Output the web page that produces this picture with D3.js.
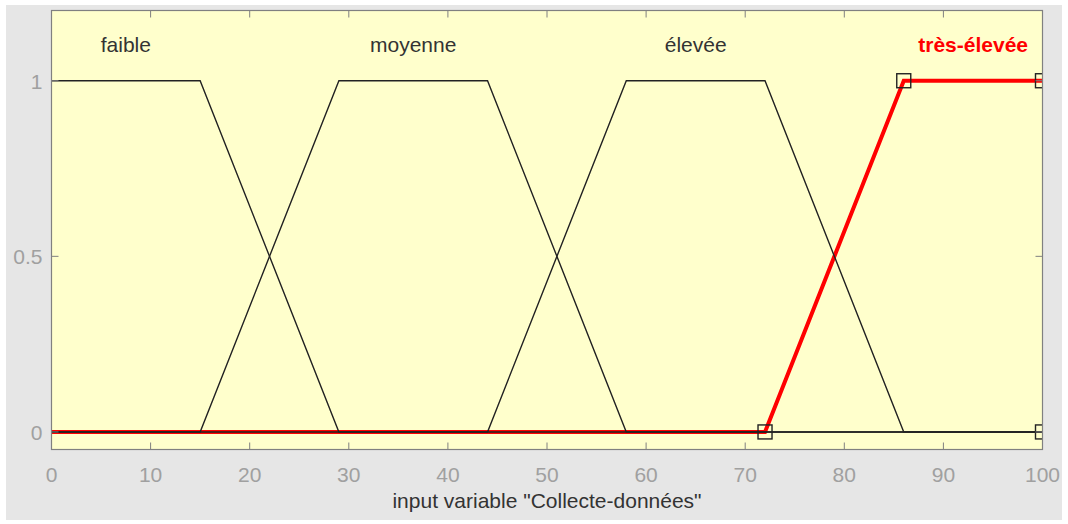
<!DOCTYPE html>
<html><head><meta charset="utf-8">
<script src="https://cdn.jsdelivr.net/npm/d3@7"></script>
<style>body{margin:0;background:#fff;}svg{display:block;font-family:"Liberation Sans",Arial,sans-serif;}</style>
</head><body>
<svg id="c" width="1068" height="524"></svg>
<script>
const mfNames = ["faible", "moyenne", "élevée", "très-élevée"];
const mfParams = [[-14, 0, 15, 29], [15, 29, 44, 58], [44, 58, 72, 86], [72, 86, 100, 114]];
const selected = 3;
const xTicks = [0, 10, 20, 30, 40, 50, 60, 70, 80, 90, 100];
const yTicks = [0, 0.5, 1];
const yTickLabels = ["0", "0.5", "1"];
const xLabel = 'input variable "Collecte-données"';

const svg = d3.select("#c");
svg.append("rect").attr("x", 6).attr("y", 5).attr("width", 1056).attr("height", 515).attr("fill", "#e6e6e6");
const L = 51.5, R = 1042.5, T = 10.5, B = 449.5;
const x = d3.scaleLinear().domain([0, 100]).range([L, R]);
const y = d3.scaleLinear().domain([-0.05, 1.2]).range([B, T]);
svg.append("rect").attr("x", L).attr("y", T).attr("width", R - L).attr("height", B - T).attr("fill", "#ffffcc");

function trap(p, v) {
  if (v <= p[0] || v >= p[3]) return 0;
  if (v >= p[1] && v <= p[2]) return 1;
  if (v < p[1]) return (v - p[0]) / (p[1] - p[0]);
  return (p[3] - v) / (p[3] - p[2]);
}
function pts(p) {
  const xs = [0, ...p.filter(v => v > 0 && v < 100), 100];
  return xs.map(v => [v, trap(p, v)]);
}
const line = d3.line().x(d => x(d[0])).y(d => y(d[1]));
svg.append("clipPath").attr("id", "cl").append("rect").attr("x", L).attr("y", T).attr("width", R - L).attr("height", B - T);
const g = svg.append("g").attr("clip-path", "url(#cl)");
const sp = mfParams[selected];
g.append("path").attr("d", line(pts(sp))).attr("fill", "none").attr("stroke", "#ff0000").attr("stroke-width", 4);
mfParams.forEach((p, i) => {
  if (i === selected) return;
  g.append("path").attr("d", line(pts(p))).attr("fill", "none").attr("stroke", "#222").attr("stroke-width", 1.4);
});
const marks = sp.map(v => [v, trap(sp, v)]).filter(d => d[0] >= 0 && d[0] <= 100);
marks.push([100, 0]);
g.selectAll(".mk").data(marks).enter().append("rect")
  .attr("x", d => x(d[0]) - 7).attr("y", d => y(d[1]) - 7).attr("width", 14).attr("height", 14)
  .attr("fill", "none").attr("stroke", "#222").attr("stroke-width", 1.4);

mfNames.forEach((n, i) => {
  const p = mfParams[i];
  svg.append("text").attr("x", x((Math.max(p[1], 0) + Math.min(p[2], 100)) / 2)).attr("y", 52)
    .attr("text-anchor", "middle").attr("font-size", 21)
    .attr("fill", i === selected ? "#ff0000" : "#333").attr("font-weight", i === selected ? "bold" : "normal").text(n);
});

const ax = svg.append("g");
ax.append("rect").attr("x", L).attr("y", T).attr("width", R - L).attr("height", B - T).attr("fill", "none").attr("stroke", "#808080").attr("stroke-width", 1.2);
xTicks.forEach(t => {
  ax.append("line").attr("x1", x(t)).attr("x2", x(t)).attr("y1", B).attr("y2", B - 7).attr("stroke", "#808080");
  ax.append("line").attr("x1", x(t)).attr("x2", x(t)).attr("y1", T).attr("y2", T + 7).attr("stroke", "#808080");
  ax.append("text").attr("x", x(t)).attr("y", 482).attr("text-anchor", "middle").attr("font-size", 21).attr("fill", "#a0a0a0").text(t);
});
yTicks.forEach((t, i) => {
  ax.append("line").attr("x1", L).attr("x2", L + 7).attr("y1", y(t)).attr("y2", y(t)).attr("stroke", "#808080");
  ax.append("line").attr("x1", R).attr("x2", R - 7).attr("y1", y(t)).attr("y2", y(t)).attr("stroke", "#808080");
  ax.append("text").attr("x", L - 9).attr("y", y(t) + 8).attr("text-anchor", "end").attr("font-size", 21).attr("fill", "#a0a0a0").text(yTickLabels[i]);
});
svg.append("text").attr("x", (L + R) / 2).attr("y", 508).attr("text-anchor", "middle").attr("font-size", 21).attr("fill", "#333").text(xLabel);
</script>
</body></html>
